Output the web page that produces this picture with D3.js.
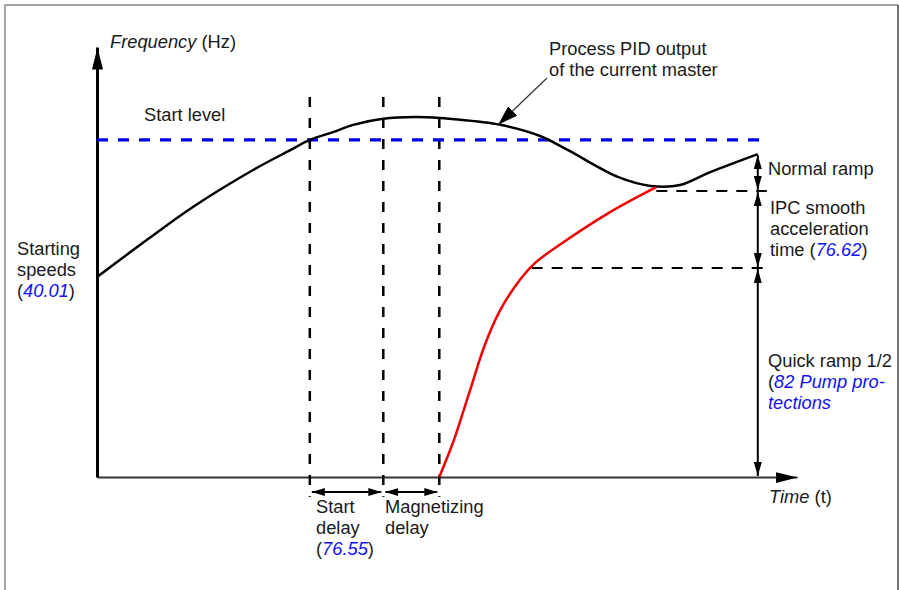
<!DOCTYPE html>
<html>
<head>
<meta charset="utf-8">
<script src="https://cdn.jsdelivr.net/npm/d3@7"></script>
<style>
  body { margin: 0; background: #fff; }
  svg text { font-family: "Liberation Sans", Arial, sans-serif; font-size: 18.3px; fill: #1a1a1a; }
  svg .link { fill: #1212f0; font-style: italic; }
  svg .it { font-style: italic; }
</style>
</head>
<body>
<div id="container"></div>
<script>
// process PID output of the current master (time, frequency in % of axis)
const pidTime = [0, 7.1, 13.7, 22.3, 27.6, 30.4, 33.7, 36.6, 40.9, 45.4, 49.0, 50.4, 57.6, 63.3, 67.3, 74.4, 79.1, 83.3, 87.6, 94.4];
const pidFreq = [46.5, 55.1, 62.8, 71.4, 76.0, 78.4, 80.2, 81.9, 83.3, 83.7, 83.5, 83.3, 81.9, 79.3, 76.0, 69.8, 67.7, 67.9, 70.9, 75.1];

// ramp of the pump that is started
const rampTime = [48.9, 50.0, 51.1, 53.3, 55.4, 57.6, 60.4, 62.6, 66.1, 73.3, 79.9];
const rampFreq = [0, 4.4, 9.1, 20.2, 30.7, 38.8, 45.8, 49.8, 54.0, 61.6, 67.4];

// events on the time axis: start delay begins, magnetizing begins, ramp begins
const eventTimes = [30.4, 40.9, 48.9];
const endTime = 94.4;

// frequency levels
const startLevel = 78.4;
const startLevelEnd = 95.1;
const levelFreqs = [75.1, 66.5, 48.6];     // target, end of smooth accel, end of quick ramp
const levelStarts = [null, 79.9, 62.1];
const levelEnd = 95.7;

// set the dimensions of the canvas
const w = 899;
const h = 590;

const xScale = d3.scaleLinear().domain([0, 100]).range([97, 797]);
const yScale = d3.scaleLinear().domain([0, 100]).range([477, 47]);

const svg = d3.select("#container")
              .append("svg")
              .attr("width", w)
              .attr("height", h);

// arrow heads
const defs = svg.append("defs");
function marker(id, len, wid) {
    defs.append("marker")
        .attr("id", id)
        .attr("markerUnits", "userSpaceOnUse")
        .attr("viewBox", "0 0 10 10")
        .attr("refX", 10)
        .attr("refY", 5)
        .attr("markerWidth", len)
        .attr("markerHeight", wid)
        .attr("orient", "auto-start-reverse")
        .attr("preserveAspectRatio", "none")
        .append("path")
        .attr("d", "M0,0L10,5L0,10Z")
        .attr("fill", "#000");
}
marker("axisArrow", 22, 11);
marker("dimArrow", 14, 8);
marker("smallArrow", 13, 8);
marker("noteArrow", 20, 13);

// frame
svg.append("path")
   .attr("d", "M5,590V5H898")
   .attr("fill", "none")
   .attr("stroke", "#888")
   .attr("stroke-width", 1.5);
svg.append("line")
   .attr("x1", 898).attr("x2", 898)
   .attr("y1", 5).attr("y2", 590)
   .attr("stroke", "#444")
   .attr("stroke-width", 1.5);

// axes
const xAxis = svg.append("g")
   .attr("transform", "translate(0," + yScale(0) + ")")
   .call(d3.axisBottom(xScale).tickValues([]).tickSizeOuter(0));
xAxis.select(".domain")
   .attr("stroke", "#333")
   .attr("stroke-width", 2)
   .attr("marker-end", "url(#axisArrow)");

const yAxis = svg.append("g")
   .attr("transform", "translate(" + xScale(0) + ",0)")
   .call(d3.axisLeft(yScale).tickValues([]).tickSizeOuter(0));
yAxis.select(".domain")
   .attr("stroke", "#000")
   .attr("stroke-width", 3)
   .attr("marker-end", "url(#axisArrow)");

// vertical event guides
svg.selectAll(".guide")
   .data(eventTimes)
   .enter()
   .append("line")
   .attr("class", "guide")
   .attr("x1", d => xScale(d))
   .attr("x2", d => xScale(d))
   .attr("y1", yScale(88.4))
   .attr("y2", yScale(-4.6))
   .attr("stroke", "#000")
   .attr("stroke-width", 2.5)
   .attr("stroke-dasharray", "10,11");

// start level
svg.append("line")
   .attr("x1", xScale(0))
   .attr("x2", xScale(startLevelEnd))
   .attr("y1", yScale(startLevel))
   .attr("y2", yScale(startLevel))
   .attr("stroke", "#0000ee")
   .attr("stroke-width", 3.3)
   .attr("stroke-dasharray", "11,10");

// level guides
const levels = levelFreqs.map((f, i) => ({f: f, s: levelStarts[i]})).filter(d => d.s !== null);
svg.selectAll(".level")
   .data(levels)
   .enter()
   .append("line")
   .attr("class", "level")
   .attr("x1", d => xScale(d.s))
   .attr("x2", xScale(levelEnd))
   .attr("y1", d => yScale(d.f))
   .attr("y2", d => yScale(d.f))
   .attr("stroke", "#000")
   .attr("stroke-width", 2)
   .attr("stroke-dasharray", "11,9");

// curves
const pid = pidTime.map((t, i) => [t, pidFreq[i]]);
const ramp = rampTime.map((t, i) => [t, rampFreq[i]]);
const line = d3.line()
               .x(d => xScale(d[0]))
               .y(d => yScale(d[1]))
               .curve(d3.curveCatmullRom.alpha(0.5));

svg.append("path")
   .attr("d", line(pid))
   .attr("fill", "none")
   .attr("stroke", "#000")
   .attr("stroke-width", 2.5);

svg.append("path")
   .attr("d", line(ramp))
   .attr("fill", "none")
   .attr("stroke", "#f00000")
   .attr("stroke-width", 2.5);

// vertical dimension arrows at the end
const xe = xScale(endTime);
const dims = [
    [levelFreqs[0], levelFreqs[1]],
    [levelFreqs[1], levelFreqs[2]],
    [levelFreqs[2], 0]
];
svg.selectAll(".dim")
   .data(dims)
   .enter()
   .append("line")
   .attr("class", "dim")
   .attr("x1", xe).attr("x2", xe)
   .attr("y1", d => yScale(d[0]) + 1)
   .attr("y2", d => yScale(d[1]) - 1)
   .attr("stroke", "#000")
   .attr("stroke-width", 2)
   .attr("marker-start", "url(#dimArrow)")
   .attr("marker-end", "url(#dimArrow)");

// horizontal delay arrows under the axis
const yd = yScale(-3.5);
svg.selectAll(".delay")
   .data([[eventTimes[0], eventTimes[1]], [eventTimes[1], eventTimes[2]]])
   .enter()
   .append("line")
   .attr("class", "delay")
   .attr("x1", d => xScale(d[0]) + 2)
   .attr("x2", d => xScale(d[1]) - 2)
   .attr("y1", yd).attr("y2", yd)
   .attr("stroke", "#000")
   .attr("stroke-width", 2)
   .attr("marker-start", "url(#smallArrow)")
   .attr("marker-end", "url(#smallArrow)");

// note arrow to the PID curve
svg.append("line")
   .attr("x1", 547).attr("y1", 78)
   .attr("x2", xScale(pidTime[12]) - 2)
   .attr("y2", yScale(pidFreq[12]))
   .attr("stroke", "#333")
   .attr("stroke-width", 1.2)
   .attr("marker-end", "url(#noteArrow)");

// texts
function label(x, y, lines) {
    const t = svg.append("text").attr("x", x).attr("y", y);
    lines.forEach(function(parts, i) {
        parts.forEach(function(p, j) {
            const s = t.append("tspan").text(p[0]);
            if (j === 0) s.attr("x", x).attr("dy", i === 0 ? 0 : 21.2);
            if (p[1]) s.attr("class", p[1]);
        });
    });
}

label(110, 48, [[["Frequency", "it"], [" (Hz)"]]]);
label(144, 121, [[["Start level"]]]);
label(17, 255, [[["Starting"]], [["speeds"]], [["("], ["40.01", "link"], [")"]]]);
label(549, 55, [[["Process PID output"]], [["of the current master"]]]);
label(768, 175, [[["Normal ramp"]]]);
label(770, 213.5, [[["IPC smooth"]], [["acceleration"]], [["time ("], ["76.62", "link"], [")"]]]);
label(768, 367, [[["Quick ramp 1/2"]], [["("], ["82 Pump pro-", "link"]], [["tections", "link"]]]);
label(769, 503, [[["Time", "it"], [" (t)"]]]);
label(316, 513, [[["Start"]], [["delay"]], [["("], ["76.55", "link"], [")"]]]);
label(385, 513, [[["Magnetizing"]], [["delay"]]]);
</script>
</body>
</html>
